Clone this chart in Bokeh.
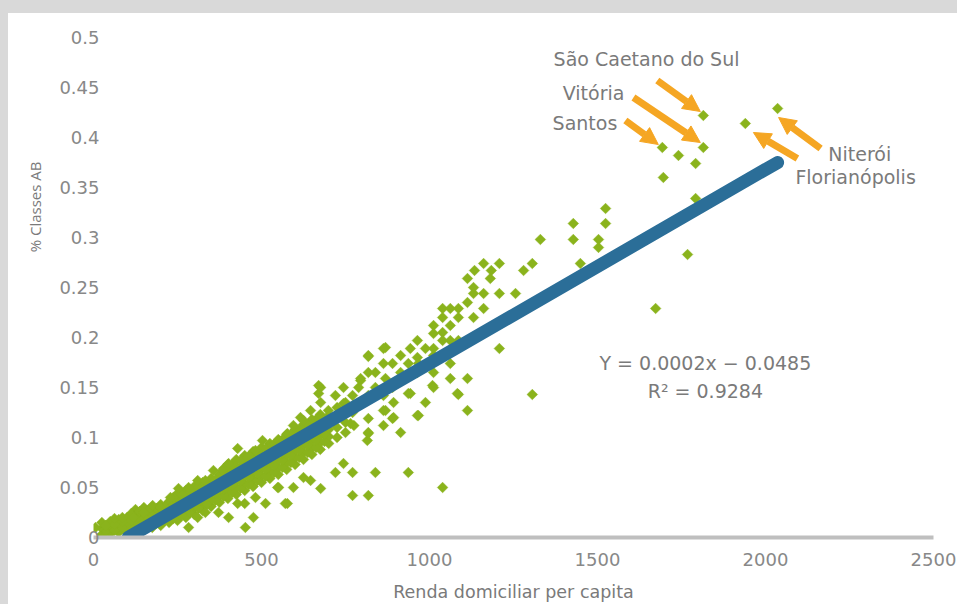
import math
from bokeh.plotting import figure
from bokeh.models import (FixedTicker, CustomJSTickFormatter, Arrow, NormalHead,
                          Label, ColumnDataSource, Range1d, Title)
from bokeh.embed import file_html
from bokeh.resources import INLINE

# ---------------- data ----------------
X_TICKS = [0, 500, 1000, 1500, 2000, 2500]
Y_TICKS = [0, 0.05, 0.1, 0.15, 0.2, 0.25, 0.3, 0.35, 0.4, 0.45, 0.5]

X_TITLE = "Renda domiciliar per capita"
Y_TITLE = "% Classes AB"

# dense core of municipalities (renda column -> several % classes AB values)
core_renda = [25, 50, 75, 100, 125, 150, 175, 200, 225, 250, 275, 300, 325, 350,
              375, 400, 425, 450, 475, 500, 525, 550, 575, 600, 625, 650, 675, 700,
              725, 750, 775]
core_ab = [
    [0.003, 0.009, 0.015],
    [0.004, 0.010, 0.016],
    [0.005, 0.011, 0.018],
    [0.006, 0.013, 0.020],
    [0.007, 0.014, 0.021, 0.028],
    [0.009, 0.016, 0.023, 0.030],
    [0.010, 0.017, 0.024, 0.031],
    [0.012, 0.019, 0.026, 0.033],
    [0.015, 0.022, 0.029, 0.036],
    [0.017, 0.024, 0.031, 0.038, 0.044],
    [0.020, 0.027, 0.034, 0.041, 0.047],
    [0.023, 0.030, 0.037, 0.044, 0.051],
    [0.027, 0.034, 0.041, 0.048, 0.055],
    [0.031, 0.038, 0.045, 0.052, 0.059],
    [0.035, 0.042, 0.049, 0.056, 0.063],
    [0.039, 0.046, 0.053, 0.060, 0.067, 0.073],
    [0.043, 0.050, 0.057, 0.064, 0.071, 0.078],
    [0.047, 0.054, 0.061, 0.068, 0.075, 0.082],
    [0.051, 0.058, 0.065, 0.072, 0.079, 0.086],
    [0.055, 0.062, 0.069, 0.076, 0.083, 0.090],
    [0.059, 0.066, 0.073, 0.080, 0.087, 0.094],
    [0.063, 0.070, 0.077, 0.084, 0.091, 0.098],
    [0.068, 0.075, 0.082, 0.089, 0.096, 0.103],
    [0.073, 0.080, 0.087, 0.094, 0.101, 0.108],
    [0.078, 0.085, 0.092, 0.099, 0.106, 0.113],
    [0.083, 0.090, 0.097, 0.104, 0.111, 0.118],
    [0.088, 0.095, 0.102, 0.109, 0.116, 0.123],
    [0.094, 0.101, 0.108, 0.115, 0.122],
    [0.100, 0.110, 0.120, 0.130],
    [0.105, 0.115, 0.125, 0.135],
    [0.112, 0.128],
]
core2_renda = [37.5, 62.5, 87.5, 112.5, 137.5, 162.5, 187.5, 212.5, 237.5, 262.5,
               287.5, 312.5, 337.5, 362.5, 387.5, 412.5, 437.5, 462.5, 487.5, 512.5,
               537.5, 562.5, 587.5, 612.5, 637.5, 662.5, 687.5]
core2_ab = [
    [0.006, 0.012],
    [0.007, 0.013, 0.019],
    [0.009, 0.016],
    [0.010, 0.017, 0.024],
    [0.012, 0.019, 0.026],
    [0.013, 0.020, 0.027],
    [0.015, 0.022, 0.029],
    [0.017, 0.024, 0.031],
    [0.019, 0.026, 0.033, 0.040],
    [0.022, 0.029, 0.036, 0.043],
    [0.025, 0.032, 0.039, 0.046],
    [0.029, 0.036, 0.043, 0.050],
    [0.033, 0.040, 0.047, 0.054],
    [0.037, 0.044, 0.051, 0.058],
    [0.041, 0.048, 0.055, 0.062, 0.069],
    [0.045, 0.052, 0.059, 0.066, 0.073],
    [0.049, 0.056, 0.063, 0.070, 0.077],
    [0.053, 0.060, 0.067, 0.074, 0.081],
    [0.057, 0.064, 0.071, 0.078, 0.085],
    [0.061, 0.068, 0.075, 0.082, 0.089],
    [0.065, 0.072, 0.079, 0.086, 0.093],
    [0.070, 0.077, 0.084, 0.091, 0.098],
    [0.075, 0.082, 0.089, 0.096, 0.103],
    [0.080, 0.087, 0.094, 0.101, 0.108],
    [0.085, 0.092, 0.099, 0.106, 0.113],
    [0.090, 0.097, 0.104, 0.111, 0.118],
    [0.096, 0.103, 0.110, 0.117],
]

# scattered municipalities (renda, % classes AB)
low_upper = [(6, .010), (36, .012), (86, .020), (119, .020), (149, .025), (176, .032),
             (199, .030), (229, .040), (253, .049), (283, .050), (310, .057), (333, .057),
             (357, .067), (384, .067), (402, .074), (429, .089), (458, .080), (482, .087),
             (503, .097), (533, .092), (551, .097), (577, .104), (595, .112), (616, .120)]
low_lower = [(283, .010), (310, .020), (333, .025), (372, .025), (402, .020), (429, .034),
             (452, .010), (476, .020), (450, .034), (482, .040), (512, .034), (548, .050),
             (577, .034), (595, .050), (625, .060), (571, .034), (676, .049), (771, .042),
             (818, .042), (771, .065), (839, .065), (720, .065), (646, .057), (937, .065),
             (1039, .050), (744, .074), (551, .050)]
middle = [(818, .182), (869, .190), (670, .152), (670, .144), (795, .157), (967, .122),
          (937, .144), (1009, .152), (988, .135), (863, .127), (890, .119), (863, .112),
          (914, .105), (815, .097), (818, .105), (964, .197), (988, .189), (943, .189),
          (863, .189), (914, .182), (964, .180), (1012, .182), (818, .181), (863, .174),
          (890, .174), (937, .174), (967, .174), (839, .165), (914, .165), (964, .165),
          (795, .159), (818, .165), (869, .159), (789, .150), (839, .150), (890, .150),
          (744, .150), (676, .150), (720, .142), (771, .142), (818, .142), (863, .142),
          (943, .144), (893, .135), (869, .127), (893, .120), (964, .122), (818, .119),
          (818, .104), (771, .125), (744, .134), (676, .135), (699, .127), (646, .127),
          (670, .119), (720, .119), (625, .117), (765, .114)]
upper = [(1524, .329), (1524, .314), (1428, .314), (1428, .298), (1330, .298), (1503, .298),
         (1503, .290), (1449, .274), (1306, .274), (1280, .267), (1256, .244), (1208, .274),
         (1161, .274), (1184, .267), (1134, .267), (1113, .259), (1181, .259), (1131, .250),
         (1131, .244), (1161, .244), (1208, .244), (1113, .235), (1039, .229), (1062, .229),
         (1086, .229), (1161, .229), (1039, .220), (1086, .220), (1131, .220), (1012, .212),
         (1062, .212), (1039, .205), (1012, .204), (1062, .197), (1086, .197), (1012, .189),
         (1208, .189), (1062, .174), (1012, .165), (1062, .159), (1113, .159), (1012, .150),
         (1086, .143), (1306, .143), (1113, .127), (1039, .197), (1083, .144)]
top = [(1741, .382), (1792, .374), (1696, .360), (1792, .339), (1768, .283), (1673, .229)]

# highlighted cities
cities = ["São Caetano do Sul", "Vitória", "Santos", "Niterói", "Florianópolis"]
city_renda = [1815, 1815, 1693, 2036, 1940]
city_ab = [0.422, 0.390, 0.390, 0.429, 0.414]

# linear trend (as drawn) and its printed equation
TREND_SLOPE = 0.000194
TREND_INTERCEPT = -0.020
EQUATION = "Y = 0.0002x \u2212 0.0485"
R_SQUARED = "R\u00b2 = 0.9284"

# ---------------- assemble ----------------
xs, ys = [], []
for cols_x, cols_y in ((core_renda, core_ab), (core2_renda, core2_ab)):
    for cx, col in zip(cols_x, cols_y):
        for v in col:
            xs.append(cx)
            ys.append(v)
for grp in (low_upper, low_lower, middle, upper, top):
    for a, b in grp:
        xs.append(a)
        ys.append(b)
xs += city_renda
ys += city_ab

GREEN = "#8ab31c"
BLUE = "#2b6e98"
ORANGE = "#f5a623"
TXT = "#7a7a7a"
TICK = "#888888"
FONT = "DejaVu Sans"

p = figure(frame_width=840, frame_height=500, output_backend="svg",
           toolbar_location=None,
           x_range=Range1d(X_TICKS[0], X_TICKS[-1]),
           y_range=Range1d(Y_TICKS[0], Y_TICKS[-1]),
           min_border_left=85, min_border_right=24, min_border_top=24,
           min_border_bottom=64)
p.background_fill_color = "white"
p.border_fill_color = "white"
p.outline_line_color = None
p.xgrid.grid_line_color = None
p.ygrid.grid_line_color = None
p.styles = {"border-top": "13px solid #d9d9d9", "border-left": "8px solid #d9d9d9"}

src = ColumnDataSource(dict(x=xs, y=ys))
p.scatter("x", "y", source=src, marker="square", size=7.5, angle=math.pi / 4,
          fill_color=GREEN, line_color=GREEN, line_width=0.5)

# trend line from where it crosses 0 to the largest renda
x0 = max(min(xs), -TREND_INTERCEPT / TREND_SLOPE)
x1 = max(xs)
p.line([x0, x1], [TREND_SLOPE * x0 + TREND_INTERCEPT, TREND_SLOPE * x1 + TREND_INTERCEPT],
       line_color=BLUE, line_width=13, line_cap="round")

# axes
xa = p.xaxis[0]
xa.ticker = FixedTicker(ticks=X_TICKS)
xa.axis_line_color = "#bfbfbf"
xa.axis_line_width = 4
xa.major_tick_line_color = None
xa.minor_tick_line_color = None
xa.major_label_text_font = FONT
xa.major_label_text_font_size = "18px"
xa.major_label_text_color = TICK
xa.major_label_standoff = 9
xa.axis_label = X_TITLE
xa.axis_label_text_font = FONT
xa.axis_label_text_font_size = "17.5px"
xa.axis_label_text_font_style = "normal"
xa.axis_label_text_color = TXT
xa.axis_label_standoff = 13

ya = p.yaxis[0]
ya.ticker = FixedTicker(ticks=Y_TICKS)
ya.formatter = CustomJSTickFormatter(code="return String(Math.round(tick*100)/100)")
ya.axis_line_color = None
ya.major_tick_line_color = None
ya.minor_tick_line_color = None
ya.major_label_text_font = FONT
ya.major_label_text_font_size = "18px"
ya.major_label_text_color = TICK
ya.major_label_standoff = -12

p.add_layout(Title(text=Y_TITLE, align="right", offset=124, text_font="Open Sans",
                   text_font_size="15px", text_font_style="normal", text_color=TXT,
                   standoff=24), "left")

# equation
p.add_layout(Label(x=1821, y=0.175, text=EQUATION, text_align="center",
                   text_baseline="middle", text_font=FONT, text_font_size="19px",
                   text_color=TXT))
p.add_layout(Label(x=1821, y=0.147, text=R_SQUARED, text_align="center",
                   text_baseline="middle", text_font=FONT, text_font_size="19px",
                   text_color=TXT))

# arrows and city names (offsets in data units relative to each city)
tail_dx = [-137, -208, -110, 128, 155]
tail_dy = [0.035, 0.050, 0.027, -0.040, -0.035]
tip_dx = [-9, -9, -12, 3, 24]
tip_dy = [0.004, 0.005, 0.003, -0.009, -0.009]
label_x = [1646, 1580, 1559, 2187, 2089]
label_y = [0.479, 0.445, 0.415, 0.384, 0.361]
label_align = ["center", "right", "right", "left", "left"]

for i, name in enumerate(cities):
    cx, cy = city_renda[i], city_ab[i]
    p.add_layout(Arrow(x_start=cx + tail_dx[i], y_start=cy + tail_dy[i],
                       x_end=cx + tip_dx[i], y_end=cy + tip_dy[i],
                       line_color=ORANGE, line_width=7,
                       end=NormalHead(size=17, fill_color=ORANGE, line_color=ORANGE)))
    p.add_layout(Label(x=label_x[i], y=label_y[i], text=name, text_align=label_align[i],
                       text_baseline="middle", text_font=FONT, text_font_size="19px",
                       text_color=TXT))

open("out.html", "w").write(file_html(p, INLINE))
